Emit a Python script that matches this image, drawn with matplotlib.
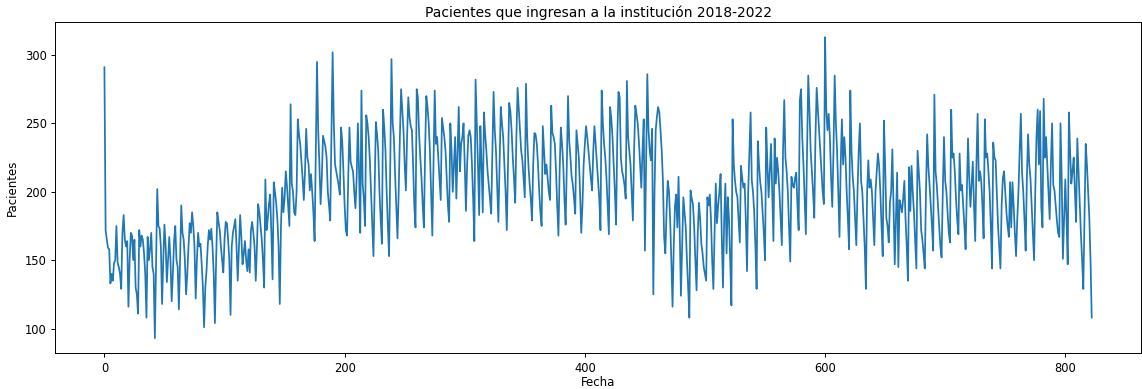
import matplotlib
matplotlib.use("Agg")
import matplotlib.pyplot as plt
import pandas as pd

# Daily admissions, split into consecutive stretches of the record
ingresos_tramo1 = [
    291, 172, 165, 159, 158, 133, 140, 135, 148, 150,
    175, 148, 145, 140, 129, 170, 183, 165, 160, 164,
    116, 150, 170, 168, 150, 165, 130, 125, 111, 172,
    160, 168, 165, 155, 140, 108, 167, 150, 158, 170,
    145, 140, 93, 150, 202, 175, 173, 160, 118, 150,
    176, 160, 134, 150, 167, 150, 120, 140, 164, 175,
    150, 145, 114, 150, 190, 170, 165, 150, 125, 140,
    160, 177, 170, 185, 175, 160, 122, 150, 170, 160,
    162, 147, 130, 101, 130, 142, 160, 172, 165, 173,
    160, 140, 104, 150, 185, 178, 172, 160, 150, 141,
    165, 178, 177, 165, 150, 110, 160, 170, 175, 180,
    160, 135, 160, 183, 167, 147, 155, 164, 150, 142,
    158, 141, 172, 178, 170, 160, 135, 160, 191, 185,
    175, 165, 150, 130, 209, 172, 180, 191, 198, 170,
    136, 207, 200, 192, 180, 160, 118, 175, 203, 185,
    195, 215, 204, 190, 175, 264, 206, 200, 185, 183,
    200, 253, 242, 235, 223, 210, 194, 215, 246, 225,
    220, 201, 213, 200, 185, 164, 230, 295, 245, 220,
    191, 210, 241, 237, 233, 225, 200, 190, 179, 240,
    302, 250, 220, 215, 210, 205, 198, 247, 237, 215,
]

ingresos_tramo2 = [
    190, 172, 168, 210, 247, 222, 218, 215, 200, 188,
    210, 250, 215, 170, 274, 206, 195, 175, 256, 250,
    240, 223, 200, 175, 153, 200, 251, 242, 230, 200,
    180, 162, 260, 247, 230, 200, 175, 153, 220, 297,
    250, 240, 213, 190, 166, 200, 240, 275, 260, 245,
    220, 201, 240, 269, 255, 248, 245, 220, 190, 174,
    275, 269, 242, 225, 210, 190, 174, 230, 270, 262,
    250, 230, 200, 168, 220, 274, 235, 240, 225, 210,
    194, 254, 247, 240, 230, 210, 190, 178, 250, 230,
    200, 220, 240, 195, 230, 262, 215, 235, 240, 250,
    220, 186, 220, 241, 245, 240, 220, 195, 164, 282,
    250, 220, 183, 248, 220, 185, 258, 242, 230, 215,
    205, 195, 184, 230, 273, 245, 230, 205, 178, 220,
    262, 250, 240, 220, 200, 172, 220, 265, 259, 245,
    225, 210, 192, 240, 276, 260, 245, 230, 223, 210,
    196, 279, 240, 220, 206, 195, 179, 220, 243, 242,
    235, 220, 200, 185, 175, 248, 230, 213, 220, 210,
    200, 194, 263, 243, 240, 235, 215, 190, 168, 215,
    247, 235, 220, 195, 176, 220, 270, 237, 225, 211,
    205, 195, 184, 245, 235, 225, 200, 170, 190, 220,
]

ingresos_tramo3 = [
    235, 248, 240, 230, 220, 210, 201, 230, 248, 235,
    223, 210, 195, 172, 274, 250, 235, 225, 210, 190,
    169, 262, 254, 240, 220, 200, 176, 240, 273, 269,
    225, 215, 211, 205, 195, 281, 240, 230, 220, 200,
    179, 230, 263, 257, 250, 237, 220, 203, 230, 253,
    157, 220, 286, 245, 230, 223, 246, 125, 200, 245,
    255, 262, 258, 245, 230, 208, 167, 155, 185, 208,
    201, 180, 150, 116, 160, 189, 198, 174, 211, 170,
    124, 160, 196, 185, 174, 150, 130, 108, 201, 195,
    191, 175, 150, 128, 170, 192, 180, 162, 155, 145,
    140, 135, 196, 190, 198, 180, 150, 129, 170, 206,
    177, 190, 200, 213, 167, 130, 180, 206, 155, 196,
    180, 150, 117, 253, 220, 208, 200, 196, 180, 163,
    219, 210, 203, 206, 180, 142, 200, 230, 258, 208,
    200, 185, 160, 129, 237, 220, 207, 200, 185, 170,
    150, 247, 220, 196, 215, 235, 200, 164, 239, 206,
    225, 215, 200, 180, 161, 230, 267, 225, 215, 200,
    175, 149, 211, 205, 203, 210, 214, 190, 172, 267,
    275, 240, 220, 195, 169, 230, 285, 260, 230, 215,
    200, 181, 240, 276, 260, 245, 230, 215, 200, 191,
]

ingresos_tramo4 = [
    313, 260, 245, 257, 240, 210, 189, 230, 285, 250,
    230, 200, 167, 220, 253, 220, 240, 225, 200, 180,
    158, 274, 230, 211, 200, 180, 161, 200, 230, 250,
    208, 200, 180, 160, 129, 200, 223, 203, 209, 200,
    180, 161, 200, 215, 228, 219, 200, 175, 153, 252,
    220, 181, 175, 163, 192, 200, 231, 190, 147, 180,
    214, 145, 194, 190, 185, 195, 208, 180, 160, 135,
    218, 186, 219, 200, 185, 165, 144, 230, 215, 200,
    172, 165, 155, 144, 200, 242, 218, 205, 190, 175,
    157, 271, 215, 205, 190, 175, 160, 152, 200, 240,
    208, 200, 185, 170, 163, 260, 225, 228, 215, 195,
    180, 169, 228, 201, 205, 190, 175, 158, 200, 239,
    210, 189, 205, 222, 190, 164, 220, 257, 208, 215,
    208, 190, 166, 253, 225, 228, 215, 200, 175, 144,
    236, 225, 223, 200, 175, 160, 144, 190, 210, 215,
    200, 185, 175, 167, 207, 174, 207, 190, 170, 153,
    180, 200, 230, 257, 214, 200, 180, 157, 210, 242,
    220, 210, 190, 170, 150, 200, 240, 260, 220, 259,
    189, 174, 268, 225, 240, 220, 200, 180, 220, 250,
    205, 201, 190, 179, 170, 167, 250, 210, 151, 180,
    209, 180, 147, 258, 230, 206, 215, 225, 200, 178,
    239, 215, 190, 169, 150, 129, 180, 235, 220, 200,
    181, 150, 108,
]

pacientes = pd.Series(
    ingresos_tramo1 + ingresos_tramo2 + ingresos_tramo3 + ingresos_tramo4
)

fig = plt.figure(figsize=(11.42, 3.89), dpi=100)
ax = fig.add_axes([0.0482, 0.092, 0.951, 0.851])

ax.plot(pacientes.index, pacientes.values, color="#1f77b4", linewidth=1.25)

ax.set_title("Pacientes que ingresan a la institución 2018-2022",
             fontsize=10, pad=4)
ax.set_xlabel("Fecha", fontsize=8.5, labelpad=1)
ax.set_ylabel("Pacientes", fontsize=8.5, labelpad=4)
ax.tick_params(labelsize=8.3, length=3, width=0.7, pad=3)
for sp in ax.spines.values():
    sp.set_linewidth(0.7)

fig.savefig("out.png", dpi=100)
